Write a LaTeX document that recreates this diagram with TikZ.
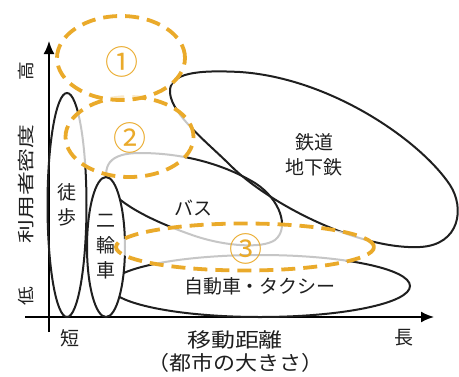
\documentclass[tikz,border=0pt]{standalone}
\usepackage{fontspec}
\setmainfont{Noto Sans CJK JP}
\usetikzlibrary{shapes.geometric,arrows.meta}
\definecolor{ochre}{RGB}{234,170,42}

\begin{document}
\begin{tikzpicture}[x=1pt,y=-1pt,
    mode/.style={draw=black!88,line width=2pt},
    zone/.style={draw=ochre,line width=3.8pt,dash pattern=on 14pt off 8pt,
      fill=white,fill opacity=0.75,draw opacity=1},
    lbl/.style={font=\fontsize{19}{25}\selectfont,align=center,text=black!88},
    axlbl/.style={text=black!88,inner sep=0pt},
    num/.style={text=ochre,inner sep=0pt,font=\fontsize{33}{33}\selectfont}]
  \useasboundingbox (0,0) rectangle (459,376);

  % axes
  \coordinate (yfoot) at (49,332);
  \coordinate (ytip) at (49,41);
  \coordinate (xfoot) at (25,317);
  \coordinate (xtip) at (434,317);
  \draw[line width=1.8pt,-{Latex[length=13pt,width=11pt]}] (yfoot) -- (ytip);
  \draw[line width=1.8pt,-{Latex[length=13pt,width=11pt]}] (xfoot) -- (xtip);

  \node[axlbl,font=\fontsize{17}{17}\selectfont,rotate=90,xscale=1.1] (hi) at (26,71) {高};
  \node[axlbl,font=\fontsize{17}{17}\selectfont,rotate=90,xscale=1.4] (density) at (26,184) {利用者密度};
  \node[axlbl,font=\fontsize{17}{17}\selectfont,rotate=90,xscale=1.1] (lo) at (26,296) {低};
  \node[axlbl,font=\fontsize{19}{19}\selectfont] (short) at (70,338) {短};
  \node[axlbl,font=\fontsize{19}{19}\selectfont] (long) at (404,338) {長};
  \node[axlbl,font=\fontsize{20}{20}\selectfont,xscale=1.2] (dist) at (235,340) {移動距離};
  \node[axlbl,font=\fontsize{20}{20}\selectfont,xscale=1.1] (size) at (236,363) {（都市の大きさ）};

  % modes
  \draw[mode] (170,93) .. controls (168,72) and (200,70) .. (240,72)
    .. controls (330,78) and (420,140) .. (450,185)
    .. controls (465,208) and (460,245) .. (420,247)
    .. controls (360,250) and (270,205) .. (230,165)
    .. controls (208,143) and (172,115) .. (170,93) -- cycle;
  \node[lbl] (rail) at (314,155) {鉄道\\地下鉄};

  \draw[mode] (110,190) .. controls (100,165) and (110,153) .. (140,153)
    .. controls (185,153) and (225,165) .. (255,183)
    .. controls (280,199) and (290,228) .. (275,240)
    .. controls (262,249) and (225,246) .. (195,236)
    .. controls (160,224) and (125,208) .. (110,190) -- cycle;
  \node[lbl] (bus) at (194,208) {バス};

  \node[mode,ellipse,lbl,minimum width=300pt,minimum height=62pt] (car) at (260,286) {自動車・タクシー};
  \node[mode,ellipse,lbl,fill=white,minimum width=38pt,minimum height=140pt] (bike) at (106,247) {二\\輪\\車};
  \node[mode,ellipse,lbl,minimum width=39pt,minimum height=224pt] (walk) at (67,205) {徒\\歩};

  % groups
  \foreach \cx/\cy/\rx/\ry in {129.5/137/64pt/40pt,121/58/64pt/42pt,245/247/129pt/23.5pt} {
    \draw[zone] (\cx,\cy) ellipse [x radius=\rx, y radius=\ry];
  }
  \foreach[count=\i] \x/\y/\s in {122/62/①,130/138/②,246/249/③} {
    \node[num] (n\i) at (\x,\y) {\s};
  }
\end{tikzpicture}
\end{document}
